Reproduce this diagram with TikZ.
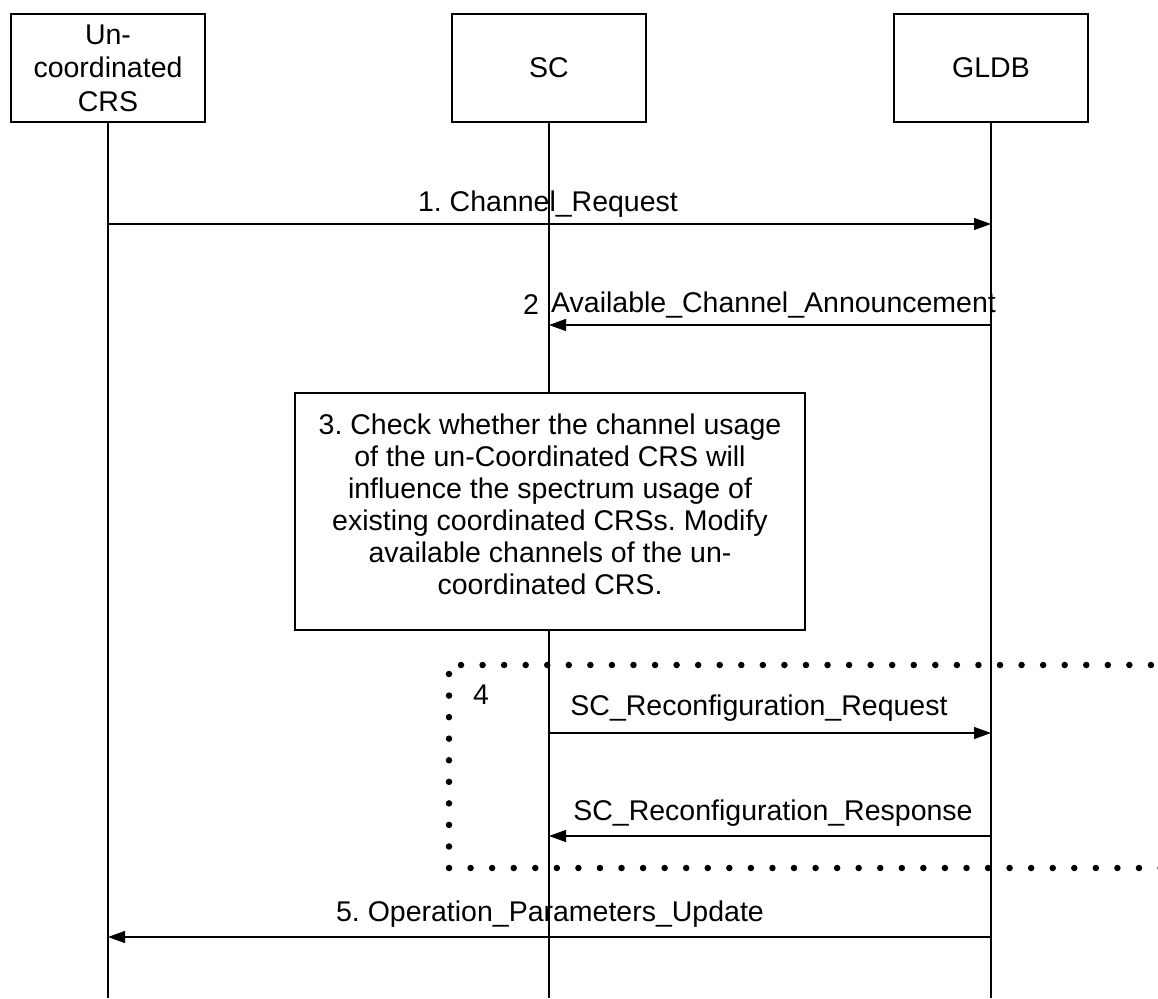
\documentclass[tikz,border=0pt]{standalone}
\usepackage{fontspec}
\setmainfont{Liberation Sans}
\usetikzlibrary{arrows.meta}
\frenchspacing
\tikzset{
  ent/.style={draw, fill=white, line width=1.6pt, minimum width=194pt, minimum height=108pt, align=center, inner sep=0pt, font=\fontsize{28.5}{33.5}\selectfont},
  life/.style={line width=1.6pt},
  msg/.style={line width=1.2pt, -{Triangle[length=17pt,width=12pt]}},
  lbl/.style={font=\fontsize{28.5}{33}\selectfont, inner sep=0pt},
  proc/.style={draw, fill=white, line width=1.6pt, minimum width=510pt, minimum height=237pt, inner sep=0pt},
  proctext/.style={align=center, inner sep=0pt, font=\fontsize{28.5}{32}\selectfont},
  dots/.style={line width=6.5pt, line cap=round, dash pattern=on 0pt off 21.56pt}
}
\begin{document}
\begin{tikzpicture}[x=1pt,y=-1pt]
\useasboundingbox (0,0) rectangle (1158,998);
\coordinate (crsE) at (108,998);
\coordinate (scE) at (549,998);
\coordinate (gldbE) at (991,998);
\coordinate (crsT) at (108,68);
\coordinate (scT) at (549,68);
\coordinate (gldbT) at (991,68);
\draw[life] (crsT) -- (crsE);
\draw[life] (scT) -- (scE);
\draw[life] (gldbT) -- (gldbE);
\node[ent] (crs) at (crsT) {Un-\\coordinated\\CRS};
\node[ent] (sc) at (scT) {SC};
\node[ent] (gldb) at (gldbT) {GLDB};
% messages
\coordinate (c1) at (108,224); \coordinate (g1) at (991,224);
\draw[msg] (c1) -- (g1);
\node[lbl] (l1) at (548,204) {1. Channel\_Request};
\coordinate (g2) at (991,325); \coordinate (s2) at (549,325);
\draw[msg] (g2) -- (s2);
\node[lbl] (l2n) at (531,305) {2};
\node[lbl, anchor=west] (l2) at (551,305) {Available\_Channel\_Announcement};
\node[proc] (chk) at (550,511.5) {};
\node[proctext] (chkt) at (550,504) {3. Check whether the channel usage\\of the un-Coordinated CRS will\\influence the spectrum usage of\\existing coordinated CRSs. Modify\\available channels of the un-\\coordinated CRS.};
% loop frame
\coordinate (fTR) at (1175,665);
\coordinate (fTL) at (461,665);
\coordinate (fLT) at (449,674);
\coordinate (fBL) at (449,868);
\coordinate (fBR) at (1175,868);
\draw[dots] (fTL) -- (fTR);
\draw[dots] (fLT) -- (fBL) -- (fBR);
\node[lbl] (l4) at (481,695) {4};
\coordinate (s4) at (549,733); \coordinate (g4) at (991,733);
\draw[msg] (s4) -- (g4);
\node[lbl] (l4a) at (759,708) {SC\_Reconfiguration\_Request};
\coordinate (g4b) at (991,836); \coordinate (s4b) at (549,836);
\draw[msg] (g4b) -- (s4b);
\node[lbl] (l4b) at (773,813) {SC\_Reconfiguration\_Response};
\coordinate (g5) at (991,937); \coordinate (c5) at (108,937);
\draw[msg] (g5) -- (c5);
\node[lbl] (l5) at (550,914) {5. Operation\_Parameters\_Update};
\end{tikzpicture}
\end{document}
